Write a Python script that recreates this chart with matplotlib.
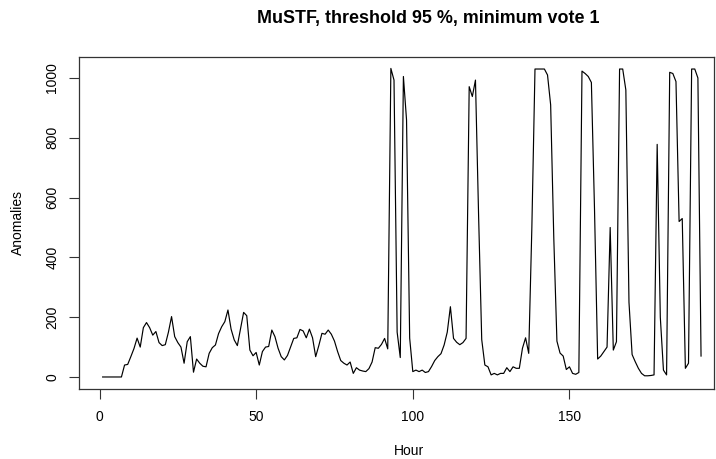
import matplotlib
matplotlib.use("Agg")
import matplotlib.pyplot as plt
import numpy as np

plt.rcParams['font.family'] = ['Liberation Sans', 'DejaVu Sans']

hours = list(range(1, 193))
anomalies = [
    0, 0, 0, 0, 0, 0, 0, 40, 42, 68,            # 1-10
    95, 130, 100, 165, 182, 165, 140, 152, 115, 105,   # 11-20
    108, 150, 202, 135, 115, 100, 46, 118, 135, 16,    # 21-30
    60, 46, 36, 34, 79, 98, 107, 145, 168, 185,        # 31-40
    224, 160, 124, 105, 160, 216, 205, 90, 71, 82,     # 41-50
    40, 85, 100, 102, 157, 135, 96, 68, 57, 72,        # 51-60
    100, 129, 131, 159, 154, 131, 160, 131, 68, 105,   # 61-70
    146, 143, 157, 143, 120, 85, 55, 46, 40, 50,       # 71-80
    12, 31, 23, 20, 18, 28, 50, 98, 96, 109,           # 81-90
    129, 94, 1032, 993, 150, 65, 1005, 860, 130, 18,   # 91-100
    23, 18, 23, 15, 18, 35, 55, 68, 78, 107,           # 101-110
    150, 235, 129, 116, 108, 115, 129, 971, 938, 993,  # 111-120
    540, 125, 40, 34, 7, 12, 7, 12, 12, 31,            # 121-130
    18, 34, 29, 29, 96, 131, 79, 500, 1030, 1030,      # 131-140
    1030, 1030, 1010, 910, 465, 120, 80, 70, 25, 34,   # 141-150
    12, 9, 15, 1023, 1015, 1005, 985, 560, 60, 70,     # 151-160
    85, 100, 500, 90, 118, 1030, 1030, 960, 250, 75,   # 161-170
    51, 29, 12, 4, 4, 5, 7, 778, 200, 23,              # 171-180
    7, 1019, 1015, 988, 520, 530, 29, 46, 1030, 1030,  # 181-190
    1000, 70,                                          # 191-192
]

x_ticks = [0, 50, 100, 150]
y_ticks = [0, 200, 400, 600, 800, 1000]

W, H = 716, 459
fig = plt.figure(figsize=(W / 100, H / 100), dpi=100)
left_px, right_px, top_px, bot_px = 78.7, 714.0, 56.7, 389.3
ax = fig.add_axes([left_px / W, 1 - bot_px / H,
                   (right_px - left_px) / W, (bot_px - top_px) / H])

ax.plot(hours, anomalies, color='black', lw=0.85)

# x scale: 0 at px 99.5, 3.133 px per hour
px_per_h = 3.133
ax.set_xlim((left_px - 99.5) / px_per_h, (right_px - 99.5) / px_per_h)
ax.set_ylim(-41.2, 1071.2)

ax.set_xticks(x_ticks)
ax.set_xticklabels([str(t) for t in x_ticks], fontsize=10)
ax.set_yticks(y_ticks)
ax.set_yticklabels([str(t) for t in y_ticks], fontsize=10, rotation=90, va='center')
ax.tick_params(direction='out', length=7, width=0.8, color='#333333', pad=7)
ax.tick_params(axis='x', pad=8)
for s in ax.spines.values():
    s.set_linewidth(0.9)
    s.set_color('#333333')

fig.text(428 / W, 1 - 19 / H, 'MuSTF, threshold 95 %, minimum vote 1',
         ha='center', va='center', fontsize=12.9, fontweight='bold')
fig.text(409 / W, 1 - 451 / H, 'Hour', ha='center', va='center', fontsize=10)
fig.text(18 / W, 1 - 222 / H, 'Anomalies', ha='center', va='center',
         rotation=90, fontsize=10)

fig.savefig('out.png', dpi=100)
